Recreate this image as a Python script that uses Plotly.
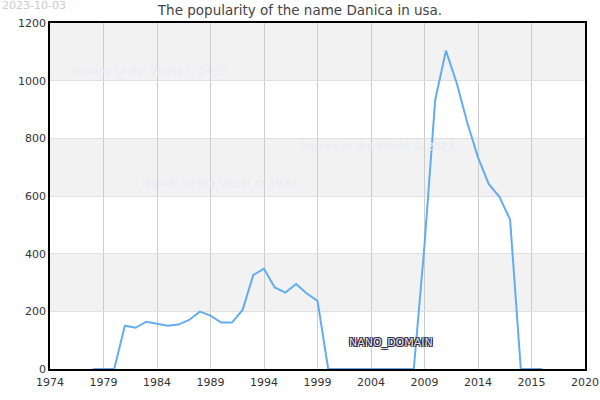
import plotly.graph_objects as go

years = list(range(1978, 2021))
counts = [0, 0, 0, 150, 143, 164, 157, 150, 154, 170, 199, 185, 161, 161, 205, 326, 348,
          283, 265, 295, 262, 236, 0, 0, 0, 0, 0, 0, 0, 0, 0, 430, 933, 1104, 993, 854,
          734, 642, 597, 518, 0, 0, 0]

tick_vals = [1974, 1979, 1984, 1989, 1994, 1999, 2004, 2009, 2014, 2019, 2024]
tick_text = ["1974", "1979", "1984", "1989", "1994", "1999", "2004", "2009", "2014", "2015", "2020"]
band_starts = [200, 600, 1000]

fig = go.Figure()
fig.add_trace(go.Scatter(x=years, y=counts, mode="lines",
                         line=dict(color="#64acf0", width=2), hoverinfo="x+y"))

# grey bands behind the grid
for b in band_starts:
    fig.add_shape(type="rect", xref="paper", yref="y", x0=0, x1=1, y0=b, y1=b + 200,
                  fillcolor="#f2f2f2", line_width=0, layer="below")

wm = dict(color="#ebebf7", size=11, family="DejaVu Sans")
for px, py in [(0.04, 0.86), (0.464, 0.643), (0.168, 0.535)]:
    fig.add_annotation(text="Names of the World © 2023", xref="paper", yref="paper",
                       x=px, y=py, xanchor="left", yanchor="middle", showarrow=False, font=wm)

fig.add_annotation(text="2023-10-03", xref="paper", yref="paper", x=-0.094, y=1.052,
                   xanchor="left", yanchor="middle", showarrow=False,
                   font=dict(color="#cccccc", size=11, family="DejaVu Sans"))
fig.add_annotation(text="NANO_DOMAIN", xref="paper", yref="paper", x=0.637, y=0.078,
                   xanchor="center", yanchor="middle", showarrow=False,
                   font=dict(color="#dcdcea", size=11, family="DejaVu Sans",
                             shadow="-1px -1px 0 #2a2540, 1px -1px 0 #2a2540, -1px 1px 0 #2a2540, 1px 1px 0 #2a2540"))

fig.update_layout(
    width=600, height=400,
    margin=dict(l=50, r=15, t=23, b=31),
    paper_bgcolor="white", plot_bgcolor="white",
    showlegend=False,
    font=dict(family="DejaVu Sans", size=11, color="#333333"),
    title=dict(text="The popularity of the name Danica in usa.", x=0.5, xref="container",
               xanchor="center", y=0.975, yanchor="middle",
               font=dict(size=13.5, color="#444444", family="DejaVu Sans")),
)
fig.update_xaxes(range=[1974, 2024], tickvals=tick_vals, ticktext=tick_text,
                 showgrid=True, gridcolor="#cccccc", gridwidth=1,
                 showline=True, linecolor="black", linewidth=1.5, mirror=True,
                 zeroline=False, ticks="", ticklabelstandoff=2, automargin=False)
fig.update_yaxes(range=[0, 1200], tickvals=[0, 200, 400, 600, 800, 1000, 1200],
                 showgrid=True, gridcolor="#e0e0e0", gridwidth=1,
                 showline=True, linecolor="black", linewidth=1.5, mirror=True,
                 zeroline=False, ticks="", automargin=False)

# drop the default 8px page margin so the figure sits at the window corner
fig.write_html("out.html", config={"displayModeBar": False},
               post_script="document.body.style.margin='0';")
